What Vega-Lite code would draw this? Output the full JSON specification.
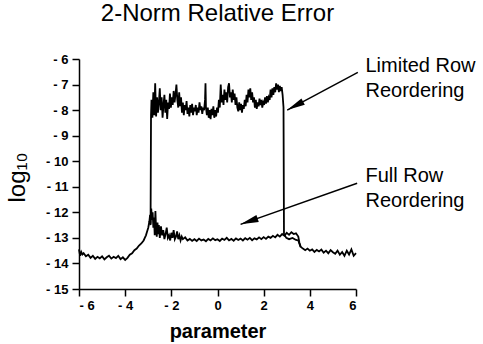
{
  "$schema": "https://vega.github.io/schema/vega-lite/v6.json",
  "width": 277,
  "height": 230,
  "autosize": {"type": "none"},
  "padding": {"left": 79, "top": 59, "right": 127, "bottom": 55},
  "background": "white",
  "config": {"view": {"stroke": null}, "font": "Liberation Sans", "axis": {"labelOverlap": false}, "axisY": {"labelOverlap": false}},
  "title": {"text": "2-Norm Relative Error", "fontSize": 24, "fontWeight": "normal", "color": "black", "anchor": "middle", "frame": "group", "offset": 18, "dy": -9},
  "datasets": {
    "curves": [
      {"s":"F","x":-6.0,"y":-13.45},{"s":"F","x":-5.95,"y":-13.7},{"s":"F","x":-5.9,"y":-13.55},{"s":"F","x":-5.85,"y":-13.65},{"s":"F","x":-5.8,"y":-13.6},
      {"s":"F","x":-5.7,"y":-13.72},{"s":"F","x":-5.6,"y":-13.66},{"s":"F","x":-5.5,"y":-13.78},{"s":"F","x":-5.4,"y":-13.7},{"s":"F","x":-5.3,"y":-13.82},
      {"s":"F","x":-5.2,"y":-13.74},{"s":"F","x":-5.1,"y":-13.8},{"s":"F","x":-5.0,"y":-13.72},{"s":"F","x":-4.9,"y":-13.84},{"s":"F","x":-4.8,"y":-13.76},
      {"s":"F","x":-4.7,"y":-13.7},{"s":"F","x":-4.6,"y":-13.81},{"s":"F","x":-4.5,"y":-13.74},{"s":"F","x":-4.4,"y":-13.79},{"s":"F","x":-4.3,"y":-13.7},
      {"s":"F","x":-4.2,"y":-13.83},{"s":"F","x":-4.1,"y":-13.76},{"s":"F","x":-4.0,"y":-13.86},{"s":"F","x":-3.9,"y":-13.78},{"s":"F","x":-3.8,"y":-13.66},
      {"s":"F","x":-3.7,"y":-13.6},{"s":"F","x":-3.6,"y":-13.48},{"s":"F","x":-3.5,"y":-13.42},{"s":"F","x":-3.4,"y":-13.3},{"s":"F","x":-3.3,"y":-13.22},
      {"s":"F","x":-3.2,"y":-13.1},{"s":"F","x":-3.15,"y":-13.0},{"s":"F","x":-3.1,"y":-12.9},{"s":"F","x":-3.05,"y":-12.75},{"s":"F","x":-3.0,"y":-12.6},
      {"s":"F","x":-2.95,"y":-12.35},{"s":"F","x":-2.92,"y":-12.1},{"s":"F","x":-2.9,"y":-12.45},{"s":"F","x":-2.87,"y":-11.85},{"s":"F","x":-2.84,"y":-12.3},
      {"s":"F","x":-2.81,"y":-12.0},{"s":"F","x":-2.78,"y":-12.6},{"s":"F","x":-2.75,"y":-12.2},{"s":"F","x":-2.72,"y":-12.9},{"s":"F","x":-2.69,"y":-11.95},
      {"s":"F","x":-2.66,"y":-12.7},{"s":"F","x":-2.63,"y":-12.95},{"s":"F","x":-2.6,"y":-12.4},{"s":"F","x":-2.57,"y":-12.85},{"s":"F","x":-2.54,"y":-12.5},
      {"s":"F","x":-2.5,"y":-13.0},{"s":"F","x":-2.45,"y":-12.55},{"s":"F","x":-2.4,"y":-12.9},{"s":"F","x":-2.35,"y":-12.7},{"s":"F","x":-2.3,"y":-13.05},
      {"s":"F","x":-2.25,"y":-12.85},{"s":"F","x":-2.2,"y":-12.6},{"s":"F","x":-2.15,"y":-13.0},{"s":"F","x":-2.1,"y":-12.9},{"s":"F","x":-2.05,"y":-13.1},
      {"s":"F","x":-2.0,"y":-12.8},{"s":"F","x":-1.95,"y":-13.0},{"s":"F","x":-1.9,"y":-12.7},{"s":"F","x":-1.85,"y":-13.05},{"s":"F","x":-1.8,"y":-12.95},
      {"s":"F","x":-1.75,"y":-12.75},{"s":"F","x":-1.7,"y":-13.05},{"s":"F","x":-1.65,"y":-12.9},{"s":"F","x":-1.6,"y":-13.1},{"s":"F","x":-1.55,"y":-12.95},
      {"s":"F","x":-1.5,"y":-13.05},{"s":"F","x":-1.4,"y":-12.98},{"s":"F","x":-1.3,"y":-13.1},{"s":"F","x":-1.2,"y":-13.04},{"s":"F","x":-1.1,"y":-13.12},
      {"s":"F","x":-1.0,"y":-13.05},{"s":"F","x":-0.9,"y":-13.12},{"s":"F","x":-0.8,"y":-13.03},{"s":"F","x":-0.7,"y":-13.1},{"s":"F","x":-0.6,"y":-13.06},
      {"s":"F","x":-0.5,"y":-13.13},{"s":"F","x":-0.4,"y":-13.04},{"s":"F","x":-0.3,"y":-13.1},{"s":"F","x":-0.2,"y":-13.02},{"s":"F","x":-0.1,"y":-13.09},
      {"s":"F","x":0.0,"y":-13.05},{"s":"F","x":0.1,"y":-13.12},{"s":"F","x":0.2,"y":-13.03},{"s":"F","x":0.3,"y":-13.08},{"s":"F","x":0.4,"y":-13.0},
      {"s":"F","x":0.5,"y":-13.1},{"s":"F","x":0.6,"y":-13.04},{"s":"F","x":0.7,"y":-13.11},{"s":"F","x":0.8,"y":-13.02},{"s":"F","x":0.9,"y":-13.08},
      {"s":"F","x":1.0,"y":-13.03},{"s":"F","x":1.1,"y":-13.1},{"s":"F","x":1.2,"y":-13.01},{"s":"F","x":1.3,"y":-13.07},{"s":"F","x":1.4,"y":-13.0},
      {"s":"F","x":1.5,"y":-13.09},{"s":"F","x":1.6,"y":-13.02},{"s":"F","x":1.7,"y":-13.06},{"s":"F","x":1.8,"y":-12.98},{"s":"F","x":1.9,"y":-13.05},
      {"s":"F","x":2.0,"y":-12.97},{"s":"F","x":2.1,"y":-13.04},{"s":"F","x":2.2,"y":-12.95},{"s":"F","x":2.3,"y":-13.0},{"s":"F","x":2.4,"y":-12.92},
      {"s":"F","x":2.5,"y":-12.98},{"s":"F","x":2.6,"y":-12.88},{"s":"F","x":2.7,"y":-12.95},{"s":"F","x":2.8,"y":-12.85},{"s":"F","x":2.9,"y":-12.92},
      {"s":"F","x":3.0,"y":-12.8},{"s":"F","x":3.1,"y":-12.88},{"s":"F","x":3.2,"y":-12.78},{"s":"F","x":3.3,"y":-12.85},{"s":"F","x":3.4,"y":-12.82},
      {"s":"F","x":3.5,"y":-12.95},{"s":"F","x":3.55,"y":-13.2},{"s":"F","x":3.6,"y":-13.35},{"s":"F","x":3.7,"y":-13.42},{"s":"F","x":3.8,"y":-13.48},
      {"s":"F","x":3.9,"y":-13.42},{"s":"F","x":4.0,"y":-13.5},{"s":"F","x":4.1,"y":-13.45},{"s":"F","x":4.2,"y":-13.55},{"s":"F","x":4.3,"y":-13.47},
      {"s":"F","x":4.4,"y":-13.53},{"s":"F","x":4.5,"y":-13.46},{"s":"F","x":4.6,"y":-13.58},{"s":"F","x":4.7,"y":-13.5},{"s":"F","x":4.8,"y":-13.6},
      {"s":"F","x":4.9,"y":-13.48},{"s":"F","x":5.0,"y":-13.56},{"s":"F","x":5.1,"y":-13.62},{"s":"F","x":5.2,"y":-13.5},{"s":"F","x":5.3,"y":-13.66},
      {"s":"F","x":5.4,"y":-13.55},{"s":"F","x":5.5,"y":-13.7},{"s":"F","x":5.6,"y":-13.5},{"s":"F","x":5.7,"y":-13.65},{"s":"F","x":5.8,"y":-13.45},
      {"s":"F","x":5.9,"y":-13.7},{"s":"F","x":6.0,"y":-13.6},

      {"s":"L","x":-2.95,"y":-12.35},{"s":"L","x":-2.9,"y":-12.5},{"s":"L","x":-2.88,"y":-8.2},
      {"s":"L","x":-2.86,"y":-7.6},{"s":"L","x":-2.82,"y":-8.3},{"s":"L","x":-2.78,"y":-7.3},{"s":"L","x":-2.74,"y":-8.2},{"s":"L","x":-2.70,"y":-6.95},
      {"s":"L","x":-2.66,"y":-8.25},{"s":"L","x":-2.62,"y":-7.5},{"s":"L","x":-2.58,"y":-8.1},{"s":"L","x":-2.54,"y":-7.7},{"s":"L","x":-2.50,"y":-7.15},
      {"s":"L","x":-2.46,"y":-8.0},{"s":"L","x":-2.42,"y":-7.5},{"s":"L","x":-2.38,"y":-8.3},{"s":"L","x":-2.34,"y":-7.8},{"s":"L","x":-2.30,"y":-7.4},
      {"s":"L","x":-2.26,"y":-8.1},{"s":"L","x":-2.22,"y":-7.6},{"s":"L","x":-2.18,"y":-8.35},{"s":"L","x":-2.14,"y":-7.7},{"s":"L","x":-2.10,"y":-7.95},
      {"s":"L","x":-2.06,"y":-7.35},{"s":"L","x":-2.02,"y":-7.9},{"s":"L","x":-1.98,"y":-7.5},{"s":"L","x":-1.94,"y":-7.8},{"s":"L","x":-1.90,"y":-7.25},
      {"s":"L","x":-1.86,"y":-7.7},{"s":"L","x":-1.82,"y":-7.4},{"s":"L","x":-1.78,"y":-7.0},{"s":"L","x":-1.74,"y":-7.6},{"s":"L","x":-1.70,"y":-7.9},
      {"s":"L","x":-1.66,"y":-7.3},{"s":"L","x":-1.62,"y":-7.85},{"s":"L","x":-1.58,"y":-7.5},{"s":"L","x":-1.54,"y":-8.1},{"s":"L","x":-1.50,"y":-7.7},
      {"s":"L","x":-1.46,"y":-8.2},{"s":"L","x":-1.42,"y":-7.8},{"s":"L","x":-1.38,"y":-8.0},{"s":"L","x":-1.34,"y":-7.65},{"s":"L","x":-1.30,"y":-8.15},
      {"s":"L","x":-1.26,"y":-7.9},{"s":"L","x":-1.22,"y":-8.25},{"s":"L","x":-1.18,"y":-7.8},{"s":"L","x":-1.14,"y":-8.1},{"s":"L","x":-1.10,"y":-7.75},
      {"s":"L","x":-1.06,"y":-8.2},{"s":"L","x":-1.02,"y":-7.9},{"s":"L","x":-0.98,"y":-8.05},{"s":"L","x":-0.94,"y":-7.8},{"s":"L","x":-0.90,"y":-8.2},
      {"s":"L","x":-0.86,"y":-7.9},{"s":"L","x":-0.82,"y":-8.1},{"s":"L","x":-0.78,"y":-7.7},{"s":"L","x":-0.74,"y":-8.0},{"s":"L","x":-0.70,"y":-7.85},
      {"s":"L","x":-0.66,"y":-8.15},{"s":"L","x":-0.62,"y":-7.9},{"s":"L","x":-0.58,"y":-8.0},{"s":"L","x":-0.54,"y":-7.6},{"s":"L","x":-0.52,"y":-6.95},
      {"s":"L","x":-0.50,"y":-7.9},{"s":"L","x":-0.46,"y":-8.2},{"s":"L","x":-0.42,"y":-7.9},{"s":"L","x":-0.38,"y":-8.3},{"s":"L","x":-0.34,"y":-8.0},
      {"s":"L","x":-0.30,"y":-8.35},{"s":"L","x":-0.26,"y":-7.95},{"s":"L","x":-0.22,"y":-8.2},{"s":"L","x":-0.18,"y":-7.85},{"s":"L","x":-0.14,"y":-8.3},
      {"s":"L","x":-0.10,"y":-8.0},{"s":"L","x":-0.06,"y":-8.25},{"s":"L","x":-0.02,"y":-7.9},{"s":"L","x":0.02,"y":-8.1},{"s":"L","x":0.06,"y":-7.6},
      {"s":"L","x":0.10,"y":-7.9},{"s":"L","x":0.14,"y":-7.0},{"s":"L","x":0.18,"y":-7.7},{"s":"L","x":0.22,"y":-7.4},{"s":"L","x":0.26,"y":-7.8},
      {"s":"L","x":0.30,"y":-7.2},{"s":"L","x":0.34,"y":-7.6},{"s":"L","x":0.38,"y":-7.3},{"s":"L","x":0.42,"y":-7.7},{"s":"L","x":0.46,"y":-7.1},
      {"s":"L","x":0.50,"y":-6.95},{"s":"L","x":0.54,"y":-7.5},{"s":"L","x":0.58,"y":-7.3},{"s":"L","x":0.62,"y":-7.7},{"s":"L","x":0.66,"y":-7.2},
      {"s":"L","x":0.70,"y":-7.6},{"s":"L","x":0.74,"y":-7.35},{"s":"L","x":0.78,"y":-7.8},{"s":"L","x":0.82,"y":-7.5},{"s":"L","x":0.86,"y":-7.9},
      {"s":"L","x":0.90,"y":-8.05},{"s":"L","x":0.94,"y":-7.7},{"s":"L","x":0.98,"y":-8.0},{"s":"L","x":1.02,"y":-7.75},{"s":"L","x":1.06,"y":-8.1},
      {"s":"L","x":1.10,"y":-7.8},{"s":"L","x":1.14,"y":-7.95},{"s":"L","x":1.18,"y":-7.6},{"s":"L","x":1.22,"y":-7.85},{"s":"L","x":1.26,"y":-7.4},
      {"s":"L","x":1.30,"y":-7.7},{"s":"L","x":1.34,"y":-7.2},{"s":"L","x":1.38,"y":-7.5},{"s":"L","x":1.42,"y":-7.15},{"s":"L","x":1.46,"y":-7.6},
      {"s":"L","x":1.50,"y":-7.3},{"s":"L","x":1.54,"y":-7.7},{"s":"L","x":1.58,"y":-7.5},{"s":"L","x":1.62,"y":-7.9},{"s":"L","x":1.66,"y":-7.6},
      {"s":"L","x":1.70,"y":-7.95},{"s":"L","x":1.74,"y":-7.7},{"s":"L","x":1.78,"y":-7.85},{"s":"L","x":1.82,"y":-7.55},{"s":"L","x":1.86,"y":-7.8},
      {"s":"L","x":1.90,"y":-7.6},{"s":"L","x":1.94,"y":-7.9},{"s":"L","x":1.98,"y":-7.7},{"s":"L","x":2.02,"y":-7.8},{"s":"L","x":2.06,"y":-7.5},
      {"s":"L","x":2.10,"y":-7.75},{"s":"L","x":2.14,"y":-7.45},{"s":"L","x":2.18,"y":-7.7},{"s":"L","x":2.22,"y":-7.5},{"s":"L","x":2.26,"y":-7.6},
      {"s":"L","x":2.30,"y":-7.2},{"s":"L","x":2.34,"y":-7.5},{"s":"L","x":2.38,"y":-7.15},{"s":"L","x":2.42,"y":-7.4},{"s":"L","x":2.46,"y":-7.1},
      {"s":"L","x":2.50,"y":-7.3},{"s":"L","x":2.54,"y":-6.95},{"s":"L","x":2.58,"y":-7.2},{"s":"L","x":2.62,"y":-7.0},{"s":"L","x":2.66,"y":-7.3},
      {"s":"L","x":2.70,"y":-7.05},{"s":"L","x":2.74,"y":-7.25},{"s":"L","x":2.78,"y":-7.1},{"s":"L","x":2.82,"y":-7.4},{"s":"L","x":2.86,"y":-7.9},
      {"s":"L","x":2.88,"y":-12.85},{"s":"L","x":2.98,"y":-13.0},{"s":"L","x":3.1,"y":-13.05},{"s":"L","x":3.25,"y":-13.0},{"s":"L","x":3.4,"y":-13.08},
      {"s":"L","x":3.5,"y":-13.1},{"s":"L","x":3.6,"y":-13.35}
    ],
    "arrows": [
      {"name":"limited","x":6.08,"y":-6.52,"x2":3.02,"y2":-8.0},
      {"name":"full","x":6.05,"y":-10.86,"x2":1.0,"y2":-12.47}
    ],
    "notes": [
      {"label":"Limited Row\nReordering","x":6.41,"y":-6.51},
      {"label":"Full Row\nReordering","x":6.41,"y":-10.81}
    ]
  },
  "layer": [
    {
      "data": {"name": "curves"},
      "mark": {"type": "line", "color": "black", "strokeWidth": 1.8, "interpolate": "linear"},
      "encoding": {
        "x": {"field": "x", "type": "quantitative", "scale": {"domain": [-6, 6], "nice": false, "zero": false},
          "axis": {"values": [-6,-4,-2,0,2,4,6], "labelExpr": "datum.value < 0 ? '- ' + abs(datum.value) : '' + datum.value",
            "labelOverlap": false, "labelFont": "Liberation Sans", "labelFontWeight": "bold", "labelFontSize": 13, "labelColor": "black", "labelPadding": 3,
            "tickSize": 7, "tickWidth": 1.5, "tickColor": "black", "domainColor": "black", "domainWidth": 1.5, "grid": false,
            "title": "parameter", "titleFont": "Liberation Sans", "titleFontSize": 20, "titleFontWeight": "bold", "titleColor": "black", "titlePadding": 9}},
        "y": {"field": "y", "type": "quantitative", "scale": {"domain": [-15, -6], "nice": false, "zero": false},
          "axis": {"values": [-15,-14,-13,-12,-11,-10,-9,-8,-7,-6], "tickCount": 10, "labelExpr": "datum.value < 0 ? '- ' + abs(datum.value) : '' + datum.value",
            "labelOverlap": false, "labelFont": "Liberation Sans", "labelFontWeight": "bold", "labelFontSize": 13, "labelColor": "black", "labelPadding": 4,
            "tickSize": 7, "tickWidth": 1.5, "tickColor": "black", "domainColor": "black", "domainWidth": 1.5, "grid": false,
            "title": "log₁₀", "titleFont": "Liberation Sans", "titleFontSize": 24, "titleFontWeight": "normal", "titleColor": "black",
            "titleAngle": -90, "titleX": -62, "titleY": 118, "titleAlign": "center", "titleBaseline": "middle"}},
        "detail": {"field": "s", "type": "nominal"}
      }
    },
    {
      "data": {"name": "arrows"},
      "mark": {"type": "rule", "color": "black", "strokeWidth": 1.5},
      "encoding": {
        "x": {"field": "x", "type": "quantitative"},
        "y": {"field": "y", "type": "quantitative"},
        "x2": {"field": "x2"},
        "y2": {"field": "y2"}
      }
    },
    {
      "data": {"name": "arrows"},
      "transform": [{"filter": "datum.name == 'limited'"}],
      "mark": {"type": "point", "shape": "M0,0L0.2,1L-0.2,1Z", "size": 1296, "filled": true, "color": "black", "opacity": 1, "angle": 242},
      "encoding": {
        "x": {"field": "x2", "type": "quantitative"},
        "y": {"field": "y2", "type": "quantitative"}
      }
    },
    {
      "data": {"name": "arrows"},
      "transform": [{"filter": "datum.name == 'full'"}],
      "mark": {"type": "point", "shape": "M0,0L0.2,1L-0.2,1Z", "size": 1296, "filled": true, "color": "black", "opacity": 1, "angle": 251},
      "encoding": {
        "x": {"field": "x2", "type": "quantitative"},
        "y": {"field": "y2", "type": "quantitative"}
      }
    },
    {
      "data": {"name": "notes"},
      "mark": {"type": "text", "align": "left", "baseline": "alphabetic", "lineBreak": "\n", "lineHeight": 25, "font": "Liberation Sans", "fontSize": 20, "color": "black"},
      "encoding": {
        "x": {"field": "x", "type": "quantitative"},
        "y": {"field": "y", "type": "quantitative"},
        "text": {"field": "label"}
      }
    }
  ]
}
